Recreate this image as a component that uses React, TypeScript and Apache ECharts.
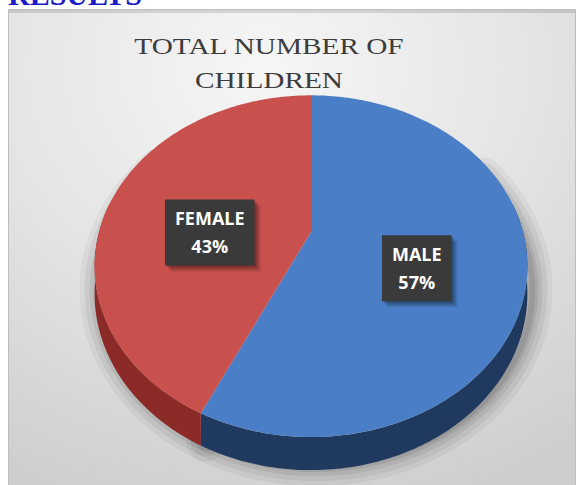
import { useEffect, useRef } from 'react';
import * as echarts from 'echarts';

const heading = 'RESULTS';
const titleLines = ['TOTAL NUMBER OF', 'CHILDREN'];
const categories = ['MALE', 'FEMALE'];
const values = [57, 43];

const topColors = ['#4a7ec6', '#c8504d'];
const sideColors = ['#1f3a5e', '#8c2a28'];

export default function App() {
  const ref = useRef<HTMLDivElement>(null);

  useEffect(() => {
    const chart = echarts.init(ref.current!, null, { renderer: 'svg' });
    const total = values.reduce((a, b) => a + b, 0);
    const starts: number[] = [];
    let acc = 0;
    values.forEach((v) => {
      starts.push(acc);
      acc += v;
    });

    const labelFont = 'bold 18px "Open Sans"';
    const ctx = document.createElement('canvas').getContext('2d')!;
    ctx.font = labelFont;
    const measure = (s: string) => ctx.measureText(s).width;

    // 3D projection of the pie disc (angle clockwise from 12 o'clock)
    const CX = 311, CY = 232, KX = 212, KY = 164, Q = 0.2, D0 = 26.5;
    const proj = (deg: number, r = 1) => {
      const t = (deg * Math.PI) / 180;
      const u = r * Math.sin(t);
      const v = -r * Math.cos(t);
      const w = 1 - Q * v;
      return [CX + (KX * u) / w, CY + (KY * v) / w, D0 / w];
    };

    const renderItem = (params: any, api: any) => {
      const i = params.dataIndex;
      const v = api.value(0);
      const a0 = (starts[i] / total) * 360;
      const a1 = a0 + (v / total) * 360;
      const children: any[] = [];

      // soft drop shadow under the front rim of this slice
      const h0 = Math.max(a0, 60);
      const h1 = Math.min(a1, 305);
      if (h1 > h0) {
        const sh: number[][] = [];
        const n = Math.max(2, Math.ceil(h1 - h0));
        for (let k = 0; k <= n; k++) {
          const p = proj(h0 + ((h1 - h0) * k) / n);
          sh.push([p[0] + 5, p[1] + p[2] - 4]);
        }
        [40, 30, 20, 12, 6].forEach((lw, j) => {
          children.push({
            type: 'polyline',
            z2: 0,
            shape: { points: sh },
            style: {
              fill: 'none',
              stroke: 'rgba(0,0,0,' + (0.045 + j * 0.01) + ')',
              lineWidth: lw,
              lineCap: 'round',
              lineJoin: 'round',
            },
          });
        });
      }

      // front side wall
      const s0 = Math.max(a0, 80);
      const s1 = Math.min(a1, 280);
      if (s1 > s0) {
        const topPts: number[][] = [];
        const botPts: number[][] = [];
        const n = Math.max(2, Math.ceil(s1 - s0));
        for (let k = 0; k <= n; k++) {
          const d = s0 + ((s1 - s0) * k) / n;
          const p = proj(d);
          topPts.push([p[0], p[1]]);
          botPts.push([p[0], p[1] + p[2]]);
        }
        children.push({
          type: 'polygon',
          z2: 2,
          shape: { points: topPts.concat(botPts.reverse()) },
          style: { fill: sideColors[i] },
        });
      }

      // top surface
      const c = proj(0, 0);
      const pts: number[][] = [[c[0], c[1]]];
      const m = Math.max(2, Math.ceil(a1 - a0));
      for (let k = 0; k <= m; k++) {
        const p = proj(a0 + ((a1 - a0) * k) / m);
        pts.push([p[0], p[1]]);
      }
      children.push({
        type: 'polygon',
        z2: 5,
        shape: { points: pts },
        style: { fill: topColors[i] },
      });

      // label box with shadow, then the label text
      const mid = (a0 + a1) / 2;
      const lp = proj(mid, 0.5);
      const line1 = categories[i];
      const line2 = Math.round((v / total) * 100) + '%';
      const bw = Math.max(measure(line1), measure(line2)) + 20;
      const bh = 66;
      const lx = lp[0];
      const ly = lp[1] + 18;
      [
        [6, 6, 0.1],
        [4, 4, 0.15],
        [2, 2, 0.2],
      ].forEach(([dx, dy, a]) => {
        children.push({
          type: 'rect',
          z2: 8,
          shape: { x: lx - bw / 2 + dx, y: ly - bh / 2 + dy, width: bw, height: bh },
          style: { fill: 'rgba(0,0,0,' + a + ')' },
        });
      });
      children.push({
        type: 'rect',
        z2: 9,
        shape: { x: lx - bw / 2, y: ly - bh / 2, width: bw, height: bh },
        style: { fill: '#3a3a3a' },
      });
      children.push({
        type: 'text',
        z2: 10,
        x: lx,
        y: ly,
        style: {
          text: line1 + '\n' + line2,
          font: labelFont,
          fill: '#ffffff',
          align: 'center',
          verticalAlign: 'middle',
          lineHeight: 28,
        },
      });

      return { type: 'group', children };
    };

    chart.setOption({
      animation: false,
      graphic: [
        {
          type: 'rect',
          z: 0,
          shape: { x: 8.5, y: 9.5, width: 567, height: 490 },
          style: {
            fill: {
              type: 'radial',
              x: 0.45,
              y: 0.12,
              r: 0.95,
              colorStops: [
                { offset: 0, color: '#f6f6f6' },
                { offset: 0.5, color: '#e4e4e4' },
                { offset: 1, color: '#cdcdcd' },
              ],
            },
            stroke: '#bdbdbd',
            lineWidth: 1,
          },
        },
        {
          type: 'rect',
          z: 0,
          shape: { x: 9, y: 10, width: 566, height: 3 },
          style: { fill: 'rgba(0,0,0,0.12)' },
        },
        {
          type: 'text',
          z: 1,
          x: 8,
          y: -6,
          style: {
            text: heading,
            fill: '#1c1cc8',
            font: 'bold 30px "Liberation Serif"',
            align: 'left',
            verticalAlign: 'middle',
          },
        },
        {
          type: 'text',
          z: 1,
          x: 269,
          y: 45.5,
          scaleX: 1.22,
          style: {
            text: titleLines[0],
            fill: '#3c3c3c',
            font: '24px "Liberation Serif"',
            align: 'center',
            verticalAlign: 'middle',
          },
        },
        {
          type: 'text',
          z: 1,
          x: 269,
          y: 80,
          scaleX: 1.22,
          style: {
            text: titleLines[1],
            fill: '#3c3c3c',
            font: '24px "Liberation Serif"',
            align: 'center',
            verticalAlign: 'middle',
          },
        },
      ],
      series: [
        {
          type: 'custom',
          coordinateSystem: 'none',
          z: 5,
          renderItem,
          data: values.map((v, i) => ({ name: categories[i], value: v })),
        },
      ],
    });

    return () => chart.dispose();
  }, []);

  return (
    <div
      ref={ref}
      style={{ position: 'fixed', left: 0, top: 0, width: 579, height: 485, background: '#ffffff' }}
    />
  );
}
